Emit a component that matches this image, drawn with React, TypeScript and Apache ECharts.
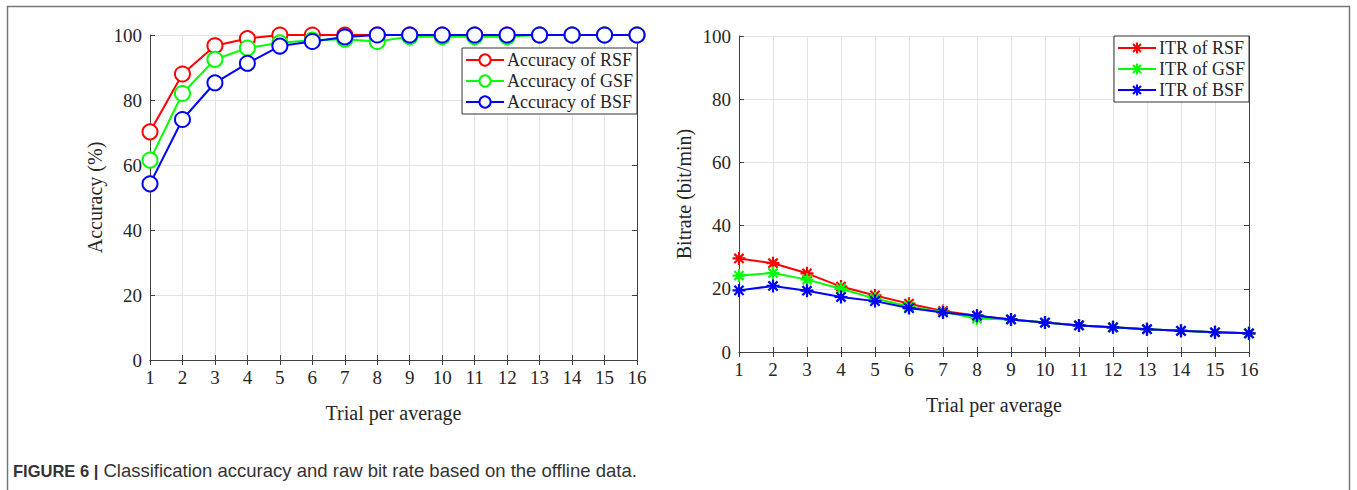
import React, { useEffect, useRef } from "react";
import * as echarts from "echarts";

const trials = [1, 2, 3, 4, 5, 6, 7, 8, 9, 10, 11, 12, 13, 14, 15, 16];
const yTicks = [0, 20, 40, 60, 80, 100];

const accRSF = [70.2, 88, 96.7, 98.9, 100, 100, 100, 100, 100, 100, 100, 100, 100, 100, 100, 100];
const accGSF = [61.5, 82, 92.5, 96, 97.6, 98.4, 98.7, 98, 99.5, 99.5, 99.5, 99.5, 100, 100, 100, 100];
const accBSF = [54.2, 74, 85.3, 91.3, 96.6, 98, 99.4, 100, 100, 100, 100, 100, 100, 100, 100, 100];

const itrRSF = [29.6, 28.1, 24.9, 20.7, 17.9, 15.3, 13.0, 11.5, 10.3, 9.3, 8.4, 7.8, 7.2, 6.7, 6.25, 5.9];
const itrGSF = [24.2, 25.0, 22.9, 20.0, 16.9, 14.4, 12.7, 10.6, 10.3, 9.3, 8.4, 7.8, 7.2, 6.7, 6.25, 5.9];
const itrBSF = [19.5, 20.9, 19.4, 17.4, 16.1, 13.9, 12.5, 11.5, 10.3, 9.3, 8.4, 7.8, 7.2, 6.7, 6.25, 5.9];

const accNames = ["Accuracy of RSF", "Accuracy of GSF", "Accuracy of BSF"];
const itrNames = ["ITR of RSF", "ITR of GSF", "ITR of BSF"];
const colors = ["#ff0000", "#00ff00", "#0000ff"];

const captionLabel = "FIGURE 6 |";
const caption = "Classification accuracy and raw bit rate based on the offline data.";

const SERIF = "'Liberation Serif', 'Times New Roman', serif";
const SANS = "'Liberation Sans', Arial, sans-serif";
const ASTER = "path://M10,0L10,20M0,10L20,10M2.93,2.93L17.07,17.07M2.93,17.07L17.07,2.93";

export default function App() {
  const ref = useRef<HTMLDivElement>(null);
  useEffect(() => {
    if (!ref.current) return;
    const chart = echarts.init(ref.current, undefined, { renderer: "svg" });
    const textColor = "#262626";
    const axisColor = "#404040";
    const splitColor = "#e3e3e3";

    const bottomX = (gi: number, name: string) => ({
      type: "value",
      gridIndex: gi,
      min: 1,
      max: 16,
      interval: 1,
      position: "bottom",
      name,
      nameLocation: "middle",
      nameGap: 43,
      nameTextStyle: { fontFamily: SERIF, fontSize: 20, color: textColor },
      axisLine: { show: true, lineStyle: { color: axisColor, width: 1 } },
      axisTick: { show: true, inside: true, length: 5, lineStyle: { color: axisColor } },
      axisLabel: { fontFamily: SERIF, fontSize: 19, color: textColor, margin: 8 },
      splitLine: { show: true, lineStyle: { color: splitColor, width: 1 } },
    });
    const topX = (gi: number) => ({
      type: "value",
      gridIndex: gi,
      min: 1,
      max: 16,
      interval: 1,
      position: "top",
      axisLine: { show: true, lineStyle: { color: axisColor, width: 1 } },
      axisTick: { show: true, inside: true, length: 5, lineStyle: { color: axisColor } },
      axisLabel: { show: false },
      splitLine: { show: false },
    });
    const leftY = (gi: number, name: string) => ({
      type: "value",
      gridIndex: gi,
      min: yTicks[0],
      max: yTicks[yTicks.length - 1],
      interval: 20,
      position: "left",
      name,
      nameLocation: "middle",
      nameGap: 45,
      nameTextStyle: { fontFamily: SERIF, fontSize: 20, color: textColor },
      axisLine: { show: true, lineStyle: { color: axisColor, width: 1 } },
      axisTick: { show: true, inside: true, length: 5, lineStyle: { color: axisColor } },
      axisLabel: { fontFamily: SERIF, fontSize: 19, color: textColor, margin: 8 },
      splitLine: { show: true, lineStyle: { color: splitColor, width: 1 } },
    });
    const rightY = (gi: number) => ({
      type: "value",
      gridIndex: gi,
      min: 0,
      max: 100,
      interval: 20,
      position: "right",
      axisLine: { show: true, lineStyle: { color: axisColor, width: 1 } },
      axisTick: { show: true, inside: true, length: 5, lineStyle: { color: axisColor } },
      axisLabel: { show: false },
      splitLine: { show: false },
    });

    const mk = (name: string, vals: number[], i: number, gi: number, circle: boolean) => ({
      type: "line",
      name,
      xAxisIndex: gi * 2,
      yAxisIndex: gi * 2,
      data: trials.map((t, k) => [t, vals[k]]),
      symbol: circle ? "emptyCircle" : ASTER,
      symbolSize: circle ? 15 : 13,
      showAllSymbol: true,
      lineStyle: { color: colors[i], width: 2 },
      itemStyle: circle
        ? { color: colors[i], borderColor: colors[i], borderWidth: 2 }
        : { color: colors[i], borderColor: colors[i], borderWidth: 2.2 },
      z: 3 + i,
    });

    const legendBase = {
      orient: "vertical",
      backgroundColor: "#ffffff",
      borderColor: "#333333",
      borderWidth: 1,
      borderRadius: 0,
      padding: [3, 4, 3, 3],
      itemGap: 3,
      itemWidth: 38,
      itemHeight: 14,
      textStyle: { fontFamily: SERIF, fontSize: 18, color: textColor, padding: [0, 0, 0, -2] },
    };

    chart.setOption({
      animation: false,
      backgroundColor: "#ffffff",
      grid: [
        { left: 150, top: 35, width: 487, height: 325, containLabel: false },
        { left: 739, top: 36, width: 510, height: 316, containLabel: false },
      ],
      xAxis: [
        bottomX(0, "Trial per average"),
        topX(0),
        bottomX(1, "Trial per average"),
        topX(1),
      ],
      yAxis: [leftY(0, "Accuracy (%)"), rightY(0), leftY(1, "Bitrate (bit/min)"), rightY(1)],
      legend: [
        { ...legendBase, data: accNames, right: 1357 - 637, top: 48 },
        { ...legendBase, data: itrNames, right: 1357 - 1249, top: 36 },
      ],
      series: [
        mk(accNames[0], accRSF, 0, 0, true),
        mk(accNames[1], accGSF, 1, 0, true),
        mk(accNames[2], accBSF, 2, 0, true),
        mk(itrNames[0], itrRSF, 0, 1, false),
        mk(itrNames[1], itrGSF, 1, 1, false),
        mk(itrNames[2], itrBSF, 2, 1, false),
      ],
      graphic: [
        {
          type: "rect",
          shape: { x: 7.5, y: 6.5, width: 1342, height: 520 },
          style: { fill: "none", stroke: "#777777", lineWidth: 1.5 },
          silent: true,
          z: -10,
        },
        {
          type: "text",
          left: 13,
          top: 461,
          style: {
            text: "{b|" + captionLabel + "} " + caption,
            fontFamily: SANS,
            fontSize: 18.5,
            fill: "#333333",
            rich: {
              b: { fontFamily: SANS, fontSize: 16.5, fontWeight: "bold", fill: "#333333" },
            },
          },
        },
      ],
    });
    return () => chart.dispose();
  }, []);
  return <div ref={ref} style={{ position: "absolute", left: 0, top: 0, width: 1357, height: 490 }} />;
}
